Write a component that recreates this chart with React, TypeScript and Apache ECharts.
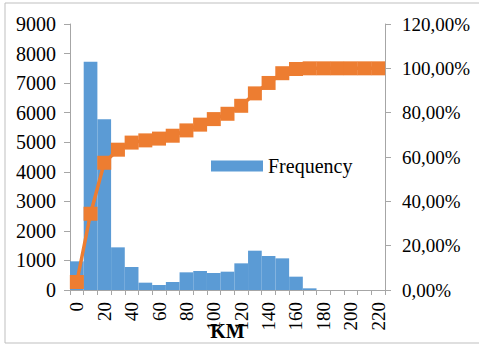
import React, { useEffect, useRef } from "react";
import * as echarts from "echarts";

const categories = ["0","10","20","30","40","50","60","70","80","90","100","110","120","130","140","150","160","170","180","190","200","210","220"];
const frequency = [970, 7725, 5774, 1443, 778, 248, 169, 270, 598, 643, 575, 620, 902, 1330, 1150, 1071, 451, 56, 0, 0, 0, 0, 0];
const cumulativePct = [3.6, 34.4, 57.4, 63.3, 66.5, 67.5, 68.3, 69.6, 72.0, 74.6, 77.1, 79.5, 83.1, 88.7, 93.4, 97.8, 99.7, 100, 100, 100, 100, 100, 100];

const FONT = "'Liberation Serif', 'Times New Roman', serif";
const AXIS_COLOR = "#A6A6A6";

export default function App() {
  const ref = useRef<HTMLDivElement>(null);
  useEffect(() => {
    if (!ref.current) return;
    const chart = echarts.init(ref.current, null, { renderer: "svg" });
    chart.setOption({
      animation: false,
      textStyle: { fontFamily: FONT, color: "#000" },
      graphic: [
        {
          type: "rect",
          shape: { x: 5, y: 3, width: 480, height: 340 },
          style: { fill: "none", stroke: "#BFBFBF", lineWidth: 1 },
          silent: true,
        },
      ],
      grid: { left: 70, right: 94, top: 24, bottom: 55, containLabel: false, outerBoundsMode: "none" },
      legend: {
        data: [{ name: "Frequency", icon: "rect" }],
        left: 206,
        top: 151,
        itemWidth: 52,
        itemHeight: 11,
        itemGap: 5,
        textStyle: { fontFamily: FONT, fontSize: 20, color: "#000" },
      },
      xAxis: {
        type: "category",
        data: categories,
        boundaryGap: true,
        name: "KM",
        nameLocation: "middle",
        nameGap: 31,
        nameMoveOverlap: false,
        nameTextStyle: { fontFamily: FONT, fontSize: 20, fontWeight: "bold", color: "#000" },
        axisLine: { lineStyle: { color: AXIS_COLOR, width: 1 } },
        axisTick: { show: true, interval: 0, length: 5, lineStyle: { color: AXIS_COLOR } },
        axisLabel: {
          interval: 1,
          rotate: 90,
          fontFamily: FONT,
          fontSize: 19,
          color: "#000",
          margin: 12,
        },
        splitLine: { show: false },
      },
      yAxis: [
        {
          type: "value",
          min: 0,
          max: 9000,
          interval: 1000,
          axisLine: { show: true, lineStyle: { color: AXIS_COLOR } },
          axisTick: { show: true, length: 6, lineStyle: { color: AXIS_COLOR } },
          axisLabel: {
            fontFamily: FONT,
            fontSize: 20,
            color: "#000",
            margin: 14,
            formatter: (v: number) => String(v),
          },
          splitLine: { show: false },
        },
        {
          type: "value",
          min: 0,
          max: 120,
          interval: 20,
          position: "right",
          axisLine: { show: true, lineStyle: { color: AXIS_COLOR } },
          axisTick: { show: true, length: 6, lineStyle: { color: AXIS_COLOR } },
          axisLabel: {
            fontFamily: FONT,
            fontSize: 19,
            color: "#000",
            margin: 17,
            formatter: (v: number) => v.toFixed(2).replace(".", ",") + "%",
          },
          splitLine: { show: false },
        },
      ],
      series: [
        {
          name: "Frequency",
          type: "bar",
          data: frequency,
          barCategoryGap: "0%",
          itemStyle: { color: "#5B9BD5" },
          yAxisIndex: 0,
          z: 2,
        },
        {
          name: "Cumulative %",
          type: "line",
          data: cumulativePct,
          yAxisIndex: 1,
          symbol: "rect",
          symbolSize: 14,
          showAllSymbol: true,
          lineStyle: { color: "#ED7D31", width: 3.5 },
          itemStyle: { color: "#ED7D31" },
          z: 3,
        },
      ],
    });
    return () => chart.dispose();
  }, []);
  return (
    <div
      ref={ref}
      style={{ position: "fixed", left: 0, top: 0, width: 479, height: 345, background: "#fff" }}
    />
  );
}
